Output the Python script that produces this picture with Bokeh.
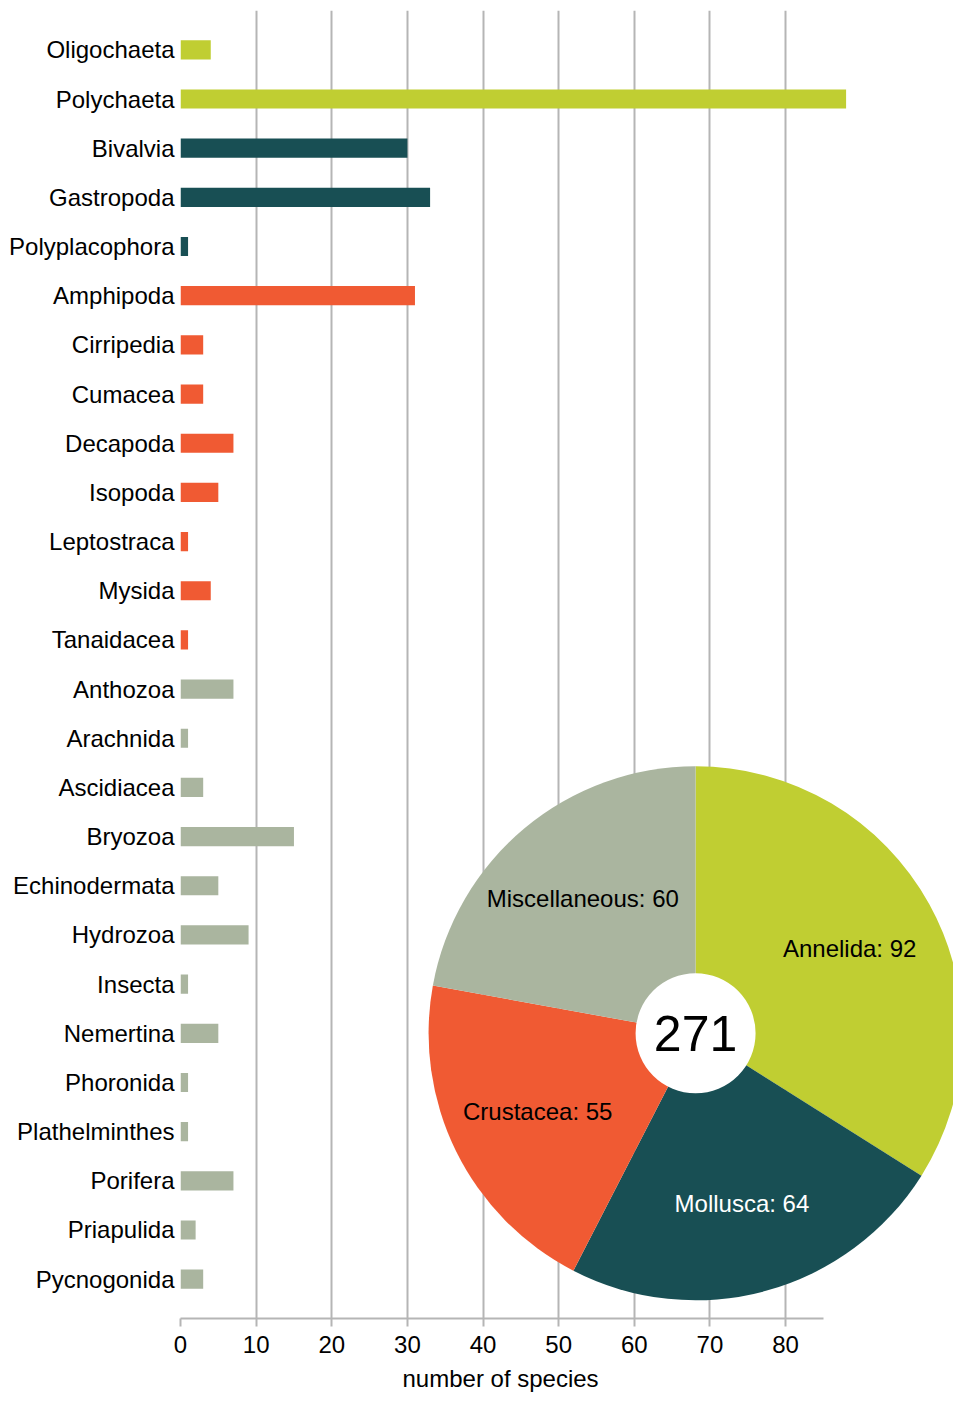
import math
from bokeh.plotting import figure
from bokeh.models import FactorRange, Range1d, FixedTicker, Title
from bokeh.core.properties import value
from bokeh.embed import file_html
from bokeh.resources import INLINE

# ---------------- data ----------------
categories = ["Oligochaeta", "Polychaeta", "Bivalvia", "Gastropoda", "Polyplacophora",
              "Amphipoda", "Cirripedia", "Cumacea", "Decapoda", "Isopoda", "Leptostraca",
              "Mysida", "Tanaidacea", "Anthozoa", "Arachnida", "Ascidiacea", "Bryozoa",
              "Echinodermata", "Hydrozoa", "Insecta", "Nemertina", "Phoronida",
              "Plathelminthes", "Porifera", "Priapulida", "Pycnogonida"]
species = [4, 88, 30, 33, 1, 31, 3, 3, 7, 5, 1, 4, 1, 7, 1, 3, 15, 5, 9, 1, 5, 1, 1, 7, 2, 3]
groups = ["Annelida", "Annelida", "Mollusca", "Mollusca", "Mollusca",
          "Crustacea", "Crustacea", "Crustacea", "Crustacea", "Crustacea", "Crustacea",
          "Crustacea", "Crustacea", "Miscellaneous", "Miscellaneous", "Miscellaneous",
          "Miscellaneous", "Miscellaneous", "Miscellaneous", "Miscellaneous", "Miscellaneous",
          "Miscellaneous", "Miscellaneous", "Miscellaneous", "Miscellaneous", "Miscellaneous"]
group_names = ["Annelida", "Mollusca", "Crustacea", "Miscellaneous"]
group_totals = [92, 64, 55, 60]
x_ticks = [0, 10, 20, 30, 40, 50, 60, 70, 80]
axis_title = "number of species"

# ---------------- styles ----------------
group_colors = {"Annelida": "#C0CE32", "Mollusca": "#184F54",
                "Crustacea": "#F05A33", "Miscellaneous": "#AAB59F"}
label_colors = {"Annelida": "black", "Mollusca": "white",
                "Crustacea": "black", "Miscellaneous": "black"}
FONT = "Liberation Sans"
GRID = "#b5b5b5"
AXIS_MAX = 85
X_END = 102.2          # frame extends to the window edge so the pie can overflow the axis
PIE_X = 68.1           # pie centre (data x)
PIE_Y = "Nemertina"    # pie centre (category row)
PIE_R = 267            # px
HOLE_R = 60            # px
LABEL_R = 176          # px

p = figure(width=953, height=1401,
           y_range=FactorRange(factors=list(reversed(categories)),
                               range_padding=0.3, range_padding_units="absolute"),
           x_range=Range1d(0, X_END),
           output_backend="svg", toolbar_location=None,
           min_border_left=180, min_border_right=0, min_border_top=10,
           min_border_bottom=83)
p.outline_line_color = None
p.background_fill_color = "white"

# bars
p.hbar(y=categories, left=0, right=species, height=0.39,
       color=[group_colors[g] for g in groups], line_color=None)

# axes
xa = p.xaxis[0]
xa.ticker = FixedTicker(ticks=x_ticks)
xa.bounds = (0, AXIS_MAX)
xa.axis_line_color = GRID
xa.axis_line_width = 2
xa.major_tick_line_color = GRID
xa.major_tick_line_width = 2
xa.major_tick_out = 8
xa.major_tick_in = 0
xa.minor_tick_line_color = None
xa.major_label_text_font = FONT
xa.major_label_text_font_size = "24px"
xa.major_label_text_color = "black"
xa.major_label_standoff = 9

ya = p.yaxis[0]
ya.axis_line_color = None
ya.major_tick_line_color = None
ya.major_tick_out = 0
ya.major_tick_in = 0
ya.minor_tick_line_color = None
ya.major_label_text_font = FONT
ya.major_label_text_font_size = "24px"
ya.major_label_text_color = "black"
ya.major_label_standoff = 6

p.xgrid.ticker = FixedTicker(ticks=x_ticks)
p.xgrid.grid_line_color = GRID
p.xgrid.grid_line_width = 2
p.ygrid.grid_line_color = None

# axis title, centred under the axis bounds
p.add_layout(Title(text=axis_title, align="left", offset=222, standoff=15,
                   text_font=FONT, text_font_size="24px", text_font_style="normal",
                   text_color="black"), "below")

# pie (clockwise from top)
total = sum(group_totals)
cum = 0
starts, ends, mids = [], [], []
for v in group_totals:
    a0 = cum / total * 2 * math.pi
    a1 = (cum + v) / total * 2 * math.pi
    starts.append(math.pi / 2 - a1)
    ends.append(math.pi / 2 - a0)
    mids.append((a0 + a1) / 2)
    cum += v

n = len(group_names)
p.wedge(x=[PIE_X] * n, y=[PIE_Y] * n, radius=PIE_R, radius_units="screen",
        start_angle=starts, end_angle=ends,
        fill_color=[group_colors[g] for g in group_names], line_color=None)
p.scatter(x=[PIE_X], y=[PIE_Y], size=2 * HOLE_R, marker="circle",
          fill_color="white", line_color=None)
p.text(x=[PIE_X], y=[PIE_Y], text=[str(total)], text_font=value(FONT),
       text_font_size="50px", text_align="center", text_baseline="middle",
       text_color="black")
p.text(x=[PIE_X] * n, y=[PIE_Y] * n,
       text=[f"{g}: {v}" for g, v in zip(group_names, group_totals)],
       x_offset=[LABEL_R * math.sin(m) for m in mids],
       y_offset=[-LABEL_R * math.cos(m) for m in mids],
       text_font=value(FONT), text_font_size="24px",
       text_align="center", text_baseline="middle",
       text_color=[label_colors[g] for g in group_names])

open("out.html", "w").write(file_html(p, INLINE))
